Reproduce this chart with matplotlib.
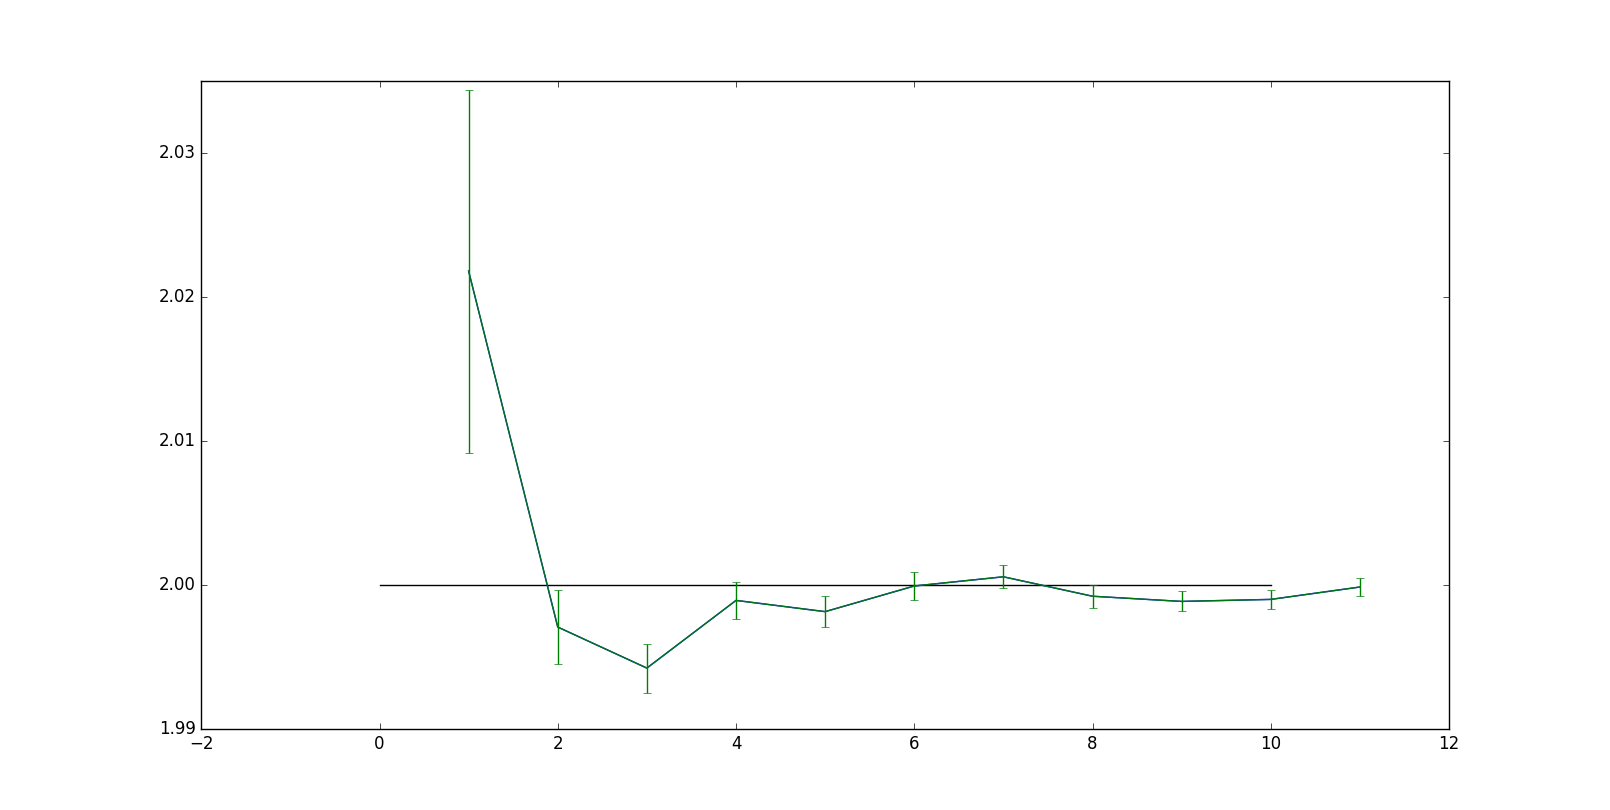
import numpy as np
import matplotlib
matplotlib.use("Agg")
import matplotlib.pyplot as plt

X = [1, 2, 3, 4, 5, 6, 7, 8, 9, 10, 11]
Y = [2.0218, 1.99708, 1.99423, 1.99893, 1.99815, 1.99993, 2.00057, 1.99922, 1.99886, 1.999, 1.99986]
YERR = [0.0126, 0.0026, 0.0017, 0.0013, 0.0011, 0.001, 0.0008, 0.0008, 0.0007, 0.00068, 0.0006]
REF_X = [0, 10]
REF_Y = [2.0, 2.0]

plt.style.use('classic')
fig = plt.figure(figsize=(16.1, 8.1), dpi=100, facecolor='white')
ax = fig.add_subplot(111)
fig.subplots_adjust(left=0.125, right=0.9, bottom=0.1, top=0.9)

ax.plot(REF_X, REF_Y, color='k', lw=1)
ax.plot(X, Y, color='b', lw=1)
line, caps, bars = ax.errorbar(X, Y, yerr=YERR, color='g', capsize=3, lw=1)
line.set_alpha(0.92)

ax.set_xlim(-2, 12)
ax.set_ylim(1.99, 2.035)
ax.set_yticks([1.99, 2.0, 2.01, 2.02, 2.03])
ax.ticklabel_format(axis='y', useOffset=False)

fig.savefig('out.png', dpi=100, facecolor='white')
